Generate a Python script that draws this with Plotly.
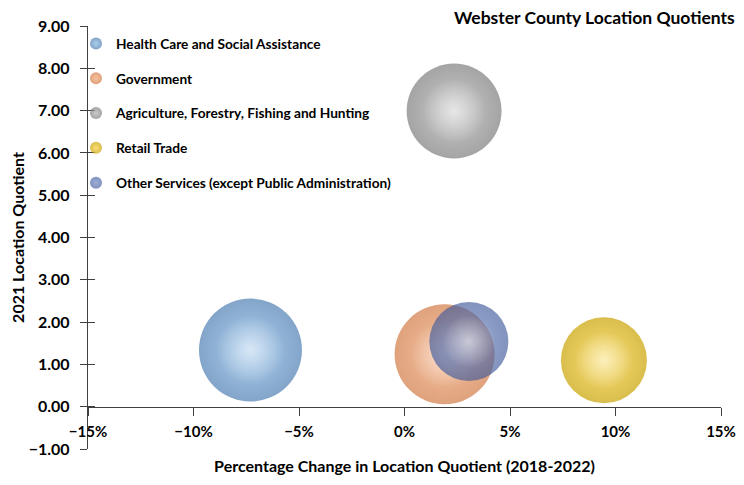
import plotly.graph_objects as go

industries = [
    "Health Care and Social Assistance",
    "Government",
    "Agriculture, Forestry, Fishing and Hunting",
    "Retail Trade",
    "Other Services (except Public Administration)",
]
pct_change = [-7.3, 1.9, 2.35, 9.45, 3.05]          # % change in LQ 2018-2022
lq_2021 = [1.34, 1.24, 6.99, 1.10, 1.54]            # 2021 location quotient
bubble_size = [1060, 1000, 900, 740, 625]           # relative bubble size (area)

body_colors = ["#86b8e6", "#f3a777", "#b4b4b4", "#f7cf35", "#6783c0"]
edge_colors = ["#4d7eb2", "#d17a44", "#7d7d7d", "#c9a200", "#3f5a9c"]
opacities = [1, 1, 1, 1, 0.93]

FONT = "Lato"
AXC = "#404040"
SIZEREF = 0.2

fig = go.Figure()
for i, name in enumerate(industries):
    fig.add_trace(go.Scatter(
        x=[pct_change[i]], y=[lq_2021[i]],
        mode="markers", name=name, legendgroup=name,
        opacity=opacities[i],
        marker=dict(
            size=[bubble_size[i]], sizemode="area", sizeref=SIZEREF,
            color=edge_colors[i],
            gradient=dict(type="radial", color=body_colors[i]),
            line=dict(width=0),
        ),
        hoverinfo="name+x+y",
    ))
    # soft specular highlight on the same bubble
    fig.add_trace(go.Scatter(
        x=[pct_change[i]], y=[lq_2021[i]],
        mode="markers", name=name, legendgroup=name, showlegend=False,
        opacity=opacities[i],
        marker=dict(
            size=[bubble_size[i] * 0.45], sizemode="area", sizeref=SIZEREF,
            color="rgba(255,255,255,0)",
            gradient=dict(type="radial", color="rgba(255,255,255,0.75)"),
            line=dict(width=0),
        ),
        hoverinfo="skip",
    ))

# helper overlay axis to get ticks crossing the vertical axis line
fig.add_trace(go.Scatter(x=[None], y=[None], yaxis="y2", showlegend=False, hoverinfo="skip"))

# page body has an 8px default margin: size the figure to fill the rest
fig.update_layout(
    width=736, height=477,
    margin=dict(l=80, r=23, t=18, b=36, autoexpand=False),
    paper_bgcolor="white", plot_bgcolor="white",
    font=dict(family=FONT, color="#000000"),
    showlegend=True,
    legend=dict(
        x=-12/633, y=1.0 - 2/423, xanchor="left", yanchor="top",
        xref="paper", yref="paper",
        bgcolor="rgba(0,0,0,0)",
        font=dict(family=FONT, size=13.7, color="#000000", weight="bold"),
        itemsizing="constant", tracegroupgap=14,
        traceorder="grouped",
    ),
    xaxis=dict(
        range=[-15, 15], dtick=5, tick0=0, ticksuffix="%",
        anchor="free", position=0.1, automargin=False,
        showline=True, linecolor=AXC, linewidth=1.3,
        ticks="outside", ticklen=8, tickcolor=AXC, tickwidth=1.3,
        ticklabelstandoff=3,
        showgrid=False, zeroline=False,
        tickfont=dict(family=FONT, size=15, color="#000000", weight="bold"),
        title=dict(text="Percentage Change in Location Quotient (2018-2022)",
                   font=dict(family=FONT, size=16, color="#000000", weight="bold"),
                   standoff=21),
    ),
    yaxis=dict(
        range=[-1, 9], dtick=1, tick0=0, tickformat=".2f",
        domain=[0, 1], automargin=False,
        showline=True, linecolor=AXC, linewidth=1.3,
        ticks="outside", ticklen=7, tickcolor=AXC, tickwidth=1.3,
        ticklabelstandoff=7,
        showgrid=False, zeroline=False,
        tickfont=dict(family=FONT, size=16, color="#000000", weight="bold"),
        title=dict(text="2021 Location Quotient",
                   font=dict(family=FONT, size=16, color="#000000", weight="bold"),
                   standoff=3),
    ),
    yaxis2=dict(
        range=[-1, 9], dtick=1, tick0=0, overlaying="y", side="left", anchor="x",
        automargin=False,
        showline=False, ticks="inside", ticklen=7, tickcolor=AXC, tickwidth=1.3,
        showticklabels=False, showgrid=False, zeroline=False,
    ),
    annotations=[dict(
        text="<b>Webster County Location Quotients</b>",
        xref="paper", yref="paper", x=1.0 + 16/633, y=1.0 + 8/423,
        xanchor="right", yanchor="middle", showarrow=False,
        font=dict(family=FONT, size=17.5, color="#000000"),
    )],
)

fig.write_html("out.html")
